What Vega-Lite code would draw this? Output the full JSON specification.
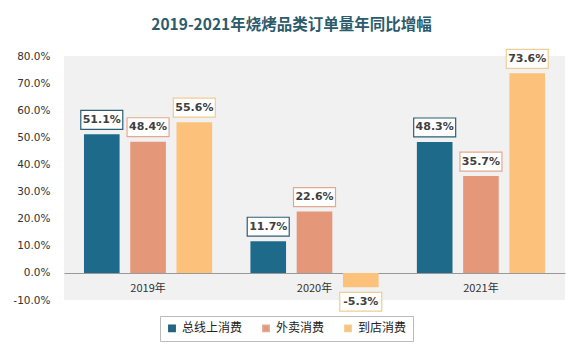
{
  "$schema": "https://vega.github.io/schema/vega-lite/v6.json",
  "width": 501,
  "height": 244,
  "autosize": {"type": "none"},
  "padding": {"left": 64, "top": 56, "right": 18, "bottom": 56},
  "background": "white",
  "title": {
    "text": "2019-2021年烧烤品类订单量年同比增幅",
    "font": "Noto Sans CJK SC",
    "fontSize": 15.5,
    "fontWeight": "bold",
    "color": "#2c5b6b",
    "anchor": "middle",
    "dx": -23,
    "offset": 14
  },
  "config": {
    "locale": {"number": {"decimal": ".", "thousands": ",", "grouping": [3], "currency": ["$", ""], "minus": "-"}},
    "view": {"fill": "#f1f1f1", "stroke": null},
    "axis": {"labelFont": "DejaVu Sans", "labelFontSize": 10.5, "labelColor": "#333333"}
  },
  "data": {
    "values": [
      {"year": "2019年", "series": "总线上消费", "value": 0.511},
      {"year": "2019年", "series": "外卖消费", "value": 0.484},
      {"year": "2019年", "series": "到店消费", "value": 0.556},
      {"year": "2020年", "series": "总线上消费", "value": 0.117},
      {"year": "2020年", "series": "外卖消费", "value": 0.226},
      {"year": "2020年", "series": "到店消费", "value": -0.053},
      {"year": "2021年", "series": "总线上消费", "value": 0.483},
      {"year": "2021年", "series": "外卖消费", "value": 0.357},
      {"year": "2021年", "series": "到店消费", "value": 0.736}
    ]
  },
  "encoding": {
    "x": {
      "field": "year", "type": "nominal", "title": null,
      "scale": {"paddingInner": 0.23, "paddingOuter": 0.12},
      "axis": {"labelAngle": 0, "ticks": false, "offset": -27, "domainColor": "#999999", "labelPadding": 9, "labelFont": "Noto Sans CJK SC", "labelFontSize": 11}
    },
    "xOffset": {
      "field": "series", "type": "nominal",
      "sort": ["总线上消费", "外卖消费", "到店消费"],
      "scale": {"paddingInner": 0.23, "paddingOuter": 0}
    },
    "y": {
      "field": "value", "type": "quantitative", "title": null,
      "scale": {"domain": [-0.1, 0.8], "nice": false},
      "axis": {"format": ".1%", "values": [-0.1, 0, 0.1, 0.2, 0.3, 0.4, 0.5, 0.6, 0.7, 0.8], "labelOverlap": false, "grid": false, "domain": false, "ticks": false, "labelPadding": 14}
    }
  },
  "layer": [
    {
      "mark": {"type": "bar"},
      "encoding": {
        "color": {
          "field": "series", "type": "nominal",
          "sort": ["总线上消费", "外卖消费", "到店消费"],
          "scale": {"domain": ["总线上消费", "外卖消费", "到店消费"], "range": ["#1e6a8b", "#e5977a", "#fcc17a"]},
          "legend": {
            "title": null, "orient": "none", "legendX": 96, "legendY": 260,
            "direction": "horizontal", "symbolType": "square", "symbolSize": 40,
            "labelFont": "Noto Sans CJK SC", "labelFontSize": 12, "labelColor": "#222222",
            "strokeColor": "#bbbbbb", "padding": 6, "fillColor": "white", "columnPadding": 16
          }
        }
      }
    },
    {
      "transform": [{"filter": "datum.value > 0"}],
      "mark": {"type": "point", "shape": "M-1,-1.14H1V-0.24H-1Z", "size": 1764, "filled": true, "fill": "white", "strokeWidth": 1.2, "opacity": 1},
      "encoding": {
        "stroke": {"field": "series", "type": "nominal", "legend": null,
          "scale": {"domain": ["总线上消费", "外卖消费", "到店消费"], "range": ["#2a5f75", "#e3a990", "#f0cd92"]}}
      }
    },
    {
      "transform": [{"filter": "datum.value > 0"}],
      "mark": {"type": "text", "dy": -14.5, "baseline": "middle", "font": "DejaVu Sans", "fontSize": 11, "fontWeight": "bold", "color": "#404040"},
      "encoding": {"text": {"field": "value", "format": ".1%"}}
    },
    {
      "transform": [{"filter": "datum.value < 0"}],
      "mark": {"type": "point", "shape": "M-1,0.24H1V1.14H-1Z", "size": 1764, "filled": true, "fill": "white", "strokeWidth": 1.2, "opacity": 1},
      "encoding": {
        "stroke": {"field": "series", "type": "nominal", "legend": null,
          "scale": {"domain": ["总线上消费", "外卖消费", "到店消费"], "range": ["#2a5f75", "#e3a990", "#f0cd92"]}}
      }
    },
    {
      "transform": [{"filter": "datum.value < 0"}],
      "mark": {"type": "text", "dy": 14.5, "baseline": "middle", "font": "DejaVu Sans", "fontSize": 11, "fontWeight": "bold", "color": "#404040"},
      "encoding": {"text": {"field": "value", "format": ".1%"}}
    }
  ]
}
